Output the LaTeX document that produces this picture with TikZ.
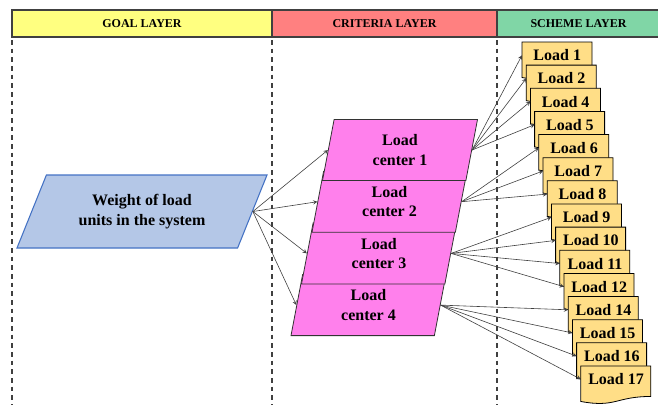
\documentclass[tikz,border=0pt]{standalone}
\usepackage{fontspec}
\setmainfont{Liberation Serif}
\usepackage{tikz}
\usetikzlibrary{arrows,shapes.geometric}
\usepackage{xcolor}
\definecolor{goal-yellow}{RGB}{255,255,128}
\definecolor{crit-red}{RGB}{255,128,128}
\definecolor{scheme-green}{RGB}{128,214,166}
\definecolor{goal-blue}{RGB}{180,199,231}
\definecolor{goal-edge}{RGB}{68,114,196}
\definecolor{center-pink}{RGB}{255,128,236}
\definecolor{load-yellow}{RGB}{255,222,135}
\newcommand{\boxfont}{\fontsize{12}{14.5}\selectfont\bfseries}
\newcommand{\headfont}{\fontsize{9}{10}\selectfont\bfseries}
\tikzstyle{layerhead}=[draw=black!75, line width=0.8pt, minimum height=20.25pt, inner sep=0pt, font=\headfont]
\tikzstyle{divider}=[draw=black!75, line width=0.9pt, dash pattern=on 3.5pt off 3pt]
\tikzstyle{goalbox}=[trapezium, trapezium left angle=55.6, trapezium right angle=124.4, trapezium stretches body, minimum width=187.5pt, minimum height=54.75pt, fill=goal-blue, draw=goal-edge, line width=0.8pt, align=center, font=\boxfont]
\tikzstyle{centerbox}=[trapezium, trapezium left angle=73.6, trapezium right angle=106.4, trapezium stretches body, minimum width=116.25pt, minimum height=45.75pt, fill=center-pink, draw=black!80, line width=0.6pt, align=center, font=\boxfont]
\tikzstyle{loadbox}=[anchor=north west, minimum width=52.5pt, minimum height=19.5pt, inner sep=0pt, font=\boxfont]
\tikzstyle{loadshape}=[fill=load-yellow, draw=black, line width=0.6pt]
\tikzstyle{link}=[-stealth, draw=black!75, line width=0.45pt]

\begin{document}
\begin{tikzpicture}[x=0.75pt,y=-0.75pt]
	\useasboundingbox (0,0) rectangle (658,405);
	\clip (0,0) rectangle (658,405);
	% layer headers
	\node[layerhead, fill=goal-yellow, minimum width=195pt] (hgoal) at (142,23.5) {GOAL LAYER};
	\node[layerhead, fill=crit-red, minimum width=168.75pt] (hcrit) at (384.5,23.5) {CRITERIA LAYER};
	\node[layerhead, fill=scheme-green, minimum width=122.25pt] (hscheme) at (578.5,23.5) {SCHEME LAYER};
	\foreach \x in {12,272,497}
		\draw[divider] (\x,40) -- (\x,405);
	% goal
	\node[goalbox] (goal) at (142,211.5) {Weight of load\\units in the system};
	% criteria, top one last so it lies over the others
	\foreach \i/\x/\y in {4/368.5/305.1, 3/379/253.4, 2/389.5/201.7, 1/400/150}
		\node[centerbox] (ctr\i) at (\x,\y) {Load\\center \i};
	% scheme
	\foreach \n [count=\k from 0] in {1,2,4,5,6,7,8,9,10,11,12,14,15,16,17} {
		\coordinate (ldc) at (522+4.2*\k,42+23.14*\k);
		\begin{scope}[shift={(ldc)}]
			\draw[loadshape] (0,0) -- (70,0) -- (70,30.5) .. controls (35,30.5) and (35,42) .. (0,35.5) -- cycle;
		\end{scope}
		\node[loadbox] (ld\n) at (ldc) {Load \n};
	}
	% links
	\foreach \i in {1,...,4}
		\draw[link] (goal.east) -- (ctr\i.west);
	\foreach \n in {1,2,4,5}
		\draw[link] (ctr1.east) -- (ld\n.west);
	\foreach \n in {6,7,8}
		\draw[link] (ctr2.east) -- (ld\n.west);
	\foreach \n in {9,10,11,12}
		\draw[link] (ctr3.east) -- (ld\n.west);
	\foreach \n in {14,15,16,17}
		\draw[link] (ctr4.east) -- (ld\n.west);
\end{tikzpicture}
\end{document}
